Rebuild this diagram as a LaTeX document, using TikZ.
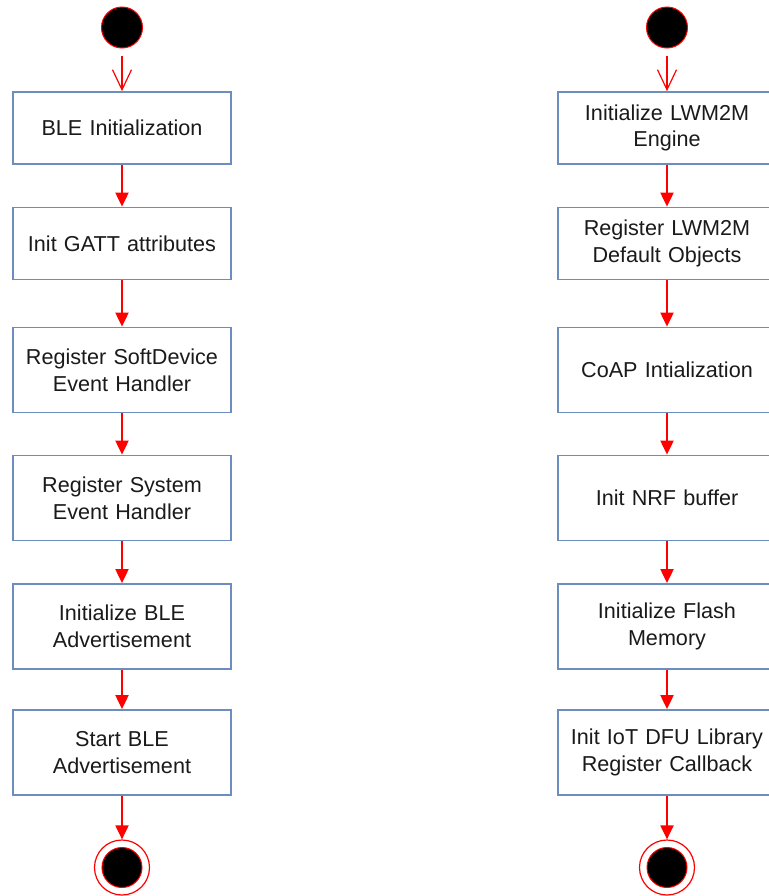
\documentclass[tikz,border=0pt]{standalone}
\usepackage{fontspec}
\setmainfont{Liberation Sans}
\usetikzlibrary{arrows.meta}
\definecolor{boxline}{HTML}{6C8EBF}
\definecolor{flowred}{HTML}{FF0000}
\definecolor{labeltext}{HTML}{1A1A1A}
\begin{document}
\begin{tikzpicture}[x=0.5pt,y=-0.5pt,
  stepbox/.style={draw=boxline, line width=0.9pt, fill=white, rectangle,
    minimum width=109pt, inner sep=0pt, align=center, text width=105pt,
    text=labeltext, font=\fontsize{10.8}{13.35}\selectfont},
  shortbox/.style={stepbox, minimum height=36pt},
  tallbox/.style={stepbox, minimum height=42.5pt},
  startdot/.style={circle, fill=black, draw=flowred, line width=0.5pt,
    minimum size=20.5pt, inner sep=0pt},
  endring/.style={circle, draw=flowred, line width=0.6pt, fill=white,
    minimum size=27.5pt, inner sep=0pt},
  enddot/.style={circle, fill=black, draw=flowred, line width=0.5pt,
    minimum size=20pt, inner sep=0pt},
  flow/.style={draw=flowred, line width=1pt, -{Triangle[length=7pt,width=6.5pt]}},
  firstflow/.style={draw=flowred, line width=0.6pt, shorten <=3.5pt,
    -{Straight Barb[length=10pt,width=9.5pt]}}
]
\clip (0,0) rectangle (769,896);
\fill[white] (0,0) rectangle (769,896);

% ---- BLE start-up sequence ----
\node[startdot] (sL) at (122,27.5) {};
\node[shortbox] (l1) at (122,128) {BLE Initialization};
\node[shortbox] (l2) at (122,243.5) {Init GATT attributes};
\node[tallbox]  (l3) at (122,370) {Register SoftDevice\\Event Handler};
\node[tallbox]  (l4) at (122,498) {Register System\\Event Handler};
\node[tallbox]  (l5) at (122,626.5) {Initialize BLE\\Advertisement};
\node[tallbox]  (l6) at (122,752.5) {Start BLE\\Advertisement};
\node[endring]  (eL) at (122,867.5) {};
\node[enddot]   (eLi) at (122,867.5) {};

\draw[firstflow] (sL.south) -- (l1.north);
\draw[flow] (l1) -- (l2);
\draw[flow] (l2) -- (l3);
\draw[flow] (l3) -- (l4);
\draw[flow] (l4) -- (l5);
\draw[flow] (l5) -- (l6);
\draw[flow] (l6) -- (eL);

% ---- LWM2M / CoAP sequence ----
\node[startdot] (sR) at (667,27.5) {};
\node[shortbox] (r1) at (667,128) {Initialize LWM2M\\Engine};
\node[shortbox] (r2) at (667,243.5) {Register LWM2M\\Default Objects};
\node[tallbox]  (r3) at (667,370) {CoAP Intialization};
\node[tallbox]  (r4) at (667,498) {Init NRF buffer};
\node[tallbox]  (r5) at (667,626.5) {Initialize Flash\\Memory};
\node[tallbox]  (r6) at (667,752.5) {Init IoT DFU Library\\Register Callback};
\node[endring]  (eR) at (667,867.5) {};
\node[enddot]   (eRi) at (667,867.5) {};

\draw[firstflow] (sR.south) -- (r1.north);
\draw[flow] (r1) -- (r2);
\draw[flow] (r2) -- (r3);
\draw[flow] (r3) -- (r4);
\draw[flow] (r4) -- (r5);
\draw[flow] (r5) -- (r6);
\draw[flow] (r6) -- (eR);
\end{tikzpicture}
\end{document}
